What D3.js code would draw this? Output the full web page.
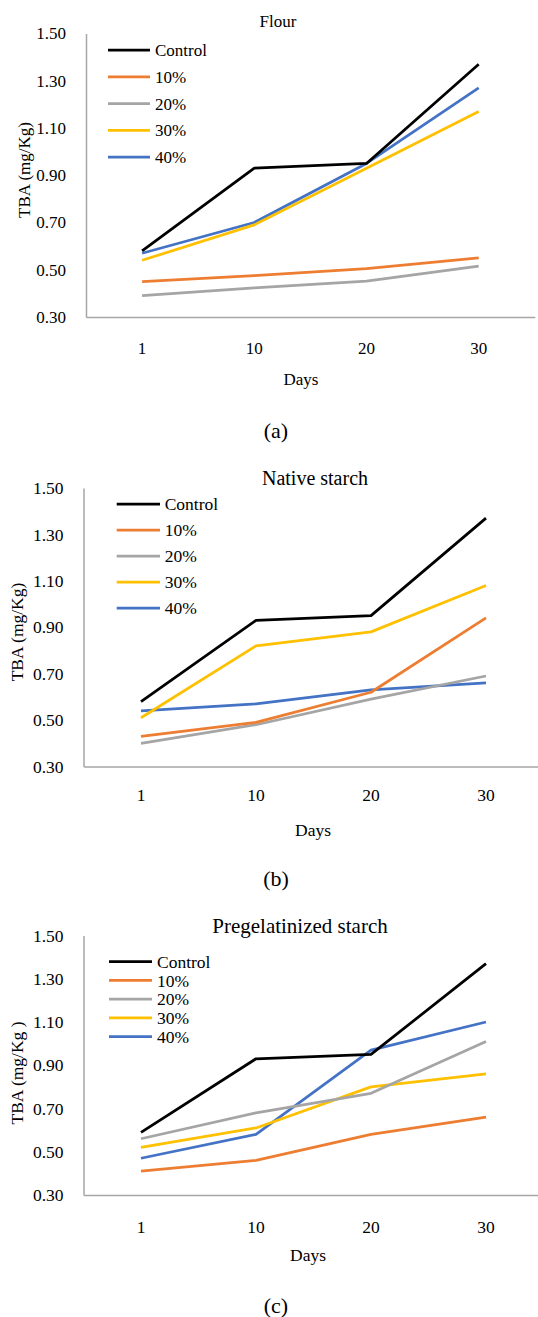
<!DOCTYPE html>
<html>
<head>
<meta charset="utf-8">
<script src="https://cdn.jsdelivr.net/npm/d3@7"></script>
<style>
  html, body { margin: 0; padding: 0; background: #fff; }
  svg { display: block; }
</style>
</head>
<body>
<svg id="chart" width="538" height="1317"></svg>
<script>
// ---- data ----
const days = ["1", "10", "20", "30"];
const seriesNames = ["Control", "10%", "20%", "30%", "40%"];
const yTickValues = [0.30, 0.50, 0.70, 0.90, 1.10, 1.30, 1.50];

const flourControl = [0.58, 0.93, 0.95, 1.37];
const flour10 = [0.45, 0.475, 0.505, 0.55];
const flour20 = [0.39, 0.423, 0.452, 0.515];
const flour30 = [0.54, 0.69, 0.93, 1.17];
const flour40 = [0.57, 0.70, 0.95, 1.27];

const nativeControl = [0.58, 0.93, 0.95, 1.37];
const native10 = [0.43, 0.49, 0.62, 0.94];
const native20 = [0.40, 0.48, 0.59, 0.69];
const native30 = [0.51, 0.82, 0.88, 1.08];
const native40 = [0.54, 0.57, 0.63, 0.66];

const pregelControl = [0.59, 0.93, 0.95, 1.37];
const pregel10 = [0.41, 0.46, 0.58, 0.66];
const pregel20 = [0.56, 0.68, 0.77, 1.01];
const pregel30 = [0.52, 0.61, 0.80, 0.86];
const pregel40 = [0.47, 0.58, 0.97, 1.10];

// ---- styles ----
const palette = ["#000000", "#ED7D31", "#A5A5A5", "#FFC000", "#4472C4"];
const SERIF = '"Liberation Serif", "Times New Roman", "DejaVu Serif", serif';

const panels = [
  { title: "Flour", caption: "(a)", ylabel: "TBA (mg/Kg)",
    series: [flourControl, flour10, flour20, flour30, flour40],
    x0: 86, band: 112.2, yTop: 33.5, yBot: 317,
    titleX: 278, titleY: 21, titleSize: 17, font: 17,
    leg: { x1: 108, x2: 150, tx: 155, y0: 50, dy: 26.8 },
    xLabY: 348, daysX: 301, daysY: 379, capX: 276, capY: 430, ylabX: 24, ylabY: 170 },
  { title: "Native starch", caption: "(b)", ylabel: "TBA (mg/Kg)",
    series: [nativeControl, native10, native20, native30, native40],
    x0: 83.5, band: 115, yTop: 488, yBot: 766.5,
    titleX: 315, titleY: 478, titleSize: 20, font: 17.5,
    leg: { x1: 116.7, x2: 160, tx: 164.7, y0: 504, dy: 26 },
    xLabY: 795, daysX: 313, daysY: 830, capX: 276, capY: 878, ylabX: 17, ylabY: 632 },
  { title: "Pregelatinized starch", caption: "(c)", ylabel: "TBA (mg/Kg )",
    series: [pregelControl, pregel10, pregel20, pregel30, pregel40],
    x0: 83.5, band: 115, yTop: 935.5, yBot: 1195,
    titleX: 300, titleY: 926, titleSize: 21, font: 17.5,
    leg: { x1: 109, x2: 152, tx: 157, y0: 961.7, dy: 18.75 },
    xLabY: 1226.7, daysX: 308, daysY: 1255, capX: 276, capY: 1305, ylabX: 17, ylabY: 1073 }
];

const svg = d3.select("#chart");

panels.forEach(p => {
  const g = svg.append("g");
  const x = d3.scaleBand().domain(days).range([p.x0, p.x0 + p.band * days.length]).padding(0);
  const y = d3.scaleLinear().domain([0.30, 1.50]).range([p.yBot, p.yTop]);

  // y axis
  const ya = g.append("g").attr("transform", `translate(${p.x0},0)`)
    .call(d3.axisLeft(y).tickValues(yTickValues).tickFormat(d3.format(".2f")).tickSize(0).tickPadding(20));
  ya.attr("font-family", null);
  ya.select(".domain").attr("stroke", "#a6a6a6").attr("stroke-width", 1.5);
  ya.selectAll("text").style("font-family", SERIF).style("font-size", p.font + "px").attr("fill", "#000");

  // x axis
  const xa = g.append("g").attr("transform", `translate(0,${p.yBot})`)
    .call(d3.axisBottom(x).tickSize(0).tickSizeOuter(0).tickPadding(0));
  xa.attr("font-family", null);
  xa.select(".domain").attr("stroke", "#a6a6a6").attr("stroke-width", 1.5);
  xa.selectAll("text").style("font-family", SERIF).style("font-size", p.font + "px").attr("fill", "#000")
    .attr("y", p.xLabY - p.yBot).attr("dy", "0.35em");

  // lines
  const line = d3.line().x((d, i) => x(days[i]) + x.bandwidth() / 2).y(d => y(d));
  const order = [4, 3, 2, 1, 0];
  order.forEach(k => {
    g.append("path").datum(p.series[k])
      .attr("d", line)
      .attr("fill", "none")
      .attr("stroke", palette[k])
      .attr("stroke-width", 2.75)
      .attr("stroke-linejoin", "round");
  });

  // legend
  seriesNames.forEach((name, k) => {
    const ly = p.leg.y0 + k * p.leg.dy;
    g.append("line").attr("x1", p.leg.x1).attr("x2", p.leg.x2).attr("y1", ly).attr("y2", ly)
      .attr("stroke", palette[k]).attr("stroke-width", 2.75);
    g.append("text").attr("x", p.leg.tx).attr("y", ly).attr("dy", "0.35em")
      .style("font-family", SERIF).style("font-size", p.font + "px").attr("fill", "#000").text(name);
  });

  // title
  g.append("text").attr("x", p.titleX).attr("y", p.titleY).attr("dy", "0.35em")
    .attr("text-anchor", "middle").style("font-family", SERIF).style("font-size", p.titleSize + "px")
    .attr("fill", "#000").text(p.title);

  // x-axis title
  g.append("text").attr("x", p.daysX).attr("y", p.daysY).attr("dy", "0.35em")
    .attr("text-anchor", "middle").style("font-family", SERIF).style("font-size", p.font + "px")
    .attr("fill", "#000").text("Days");

  // y-axis title
  g.append("text").attr("transform", `translate(${p.ylabX},${p.ylabY}) rotate(-90)`)
    .attr("dy", "0.35em").attr("text-anchor", "middle").style("font-family", SERIF)
    .style("font-size", p.font + "px").attr("fill", "#000").text(p.ylabel);

  // caption
  g.append("text").attr("x", p.capX).attr("y", p.capY).attr("dy", "0.35em")
    .attr("text-anchor", "middle").style("font-family", SERIF).style("font-size", "22px")
    .attr("fill", "#000").text(p.caption);
});
</script>
</body>
</html>
